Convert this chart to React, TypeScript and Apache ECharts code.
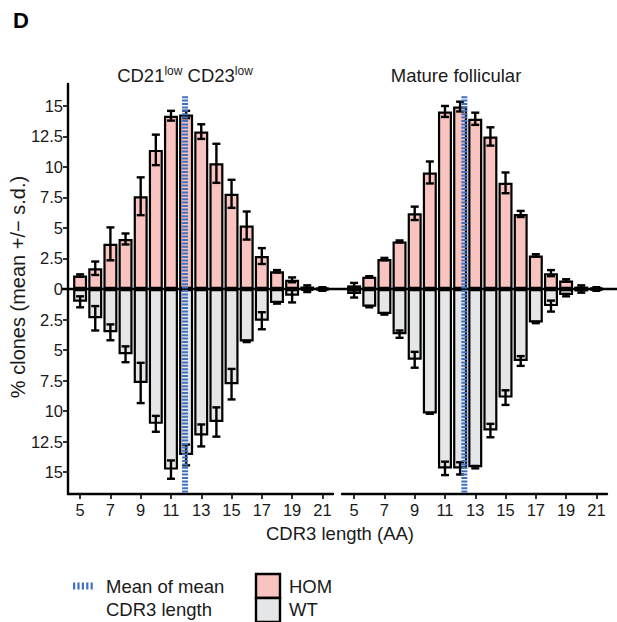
import React, { useEffect, useRef } from "react";
import * as echarts from "echarts";

// ---- data ----
const lengths = [5, 6, 7, 8, 9, 10, 11, 12, 13, 14, 15, 16, 17, 18, 19, 20, 21];
const xTickValues = [5, 7, 9, 11, 13, 15, 17, 19, 21];
const yTickValues = [-15, -12.5, -10, -7.5, -5, -2.5, 0, 2.5, 5, 7.5, 10, 12.5, 15];

const panelNames = ["CD21low CD23low", "Mature follicular"];

const leftHomMean = [1.1, 1.7, 3.7, 4.1, 7.6, 11.4, 14.2, 14.3, 12.9, 10.3, 7.8, 5.2, 2.7, 1.45, 0.75, 0.2, 0.1];
const leftHomSd = [0.1, 0.55, 1.35, 0.45, 1.55, 1.25, 0.4, 0.3, 0.6, 1.6, 1.15, 1.15, 0.65, 0.1, 0.2, 0.1, 0.05];
const leftWtMean = [1.05, 2.4, 3.55, 5.35, 7.7, 11.05, 14.8, 13.6, 12.0, 10.9, 7.8, 4.3, 2.6, 1.15, 0.55, 0.15, 0.1];
const leftWtSd = [0.45, 1.0, 0.65, 0.65, 1.65, 0.65, 0.75, 0.85, 0.9, 1.2, 1.25, 0.05, 0.7, 0.05, 0.55, 0.1, 0.05];

const rightHomMean = [0.3, 1.0, 2.45, 3.9, 6.2, 9.55, 14.55, 14.95, 13.95, 12.5, 8.7, 6.15, 2.75, 1.3, 0.7, 0.2, 0.1];
const rightHomSd = [0.2, 0.05, 0.1, 0.08, 0.55, 0.9, 0.45, 0.4, 0.5, 0.75, 0.85, 0.25, 0.1, 0.25, 0.1, 0.1, 0.05];
const rightWtMean = [0.4, 1.45, 2.05, 3.7, 5.8, 10.2, 14.7, 14.7, 14.6, 11.6, 8.9, 5.9, 2.75, 1.4, 0.5, 0.2, 0.1];
const rightWtSd = [0.3, 0.05, 0.05, 0.3, 0.65, 0.02, 0.55, 0.5, 0.1, 0.55, 0.6, 0.4, 0.05, 0.45, 0.1, 0.1, 0.05];

const meanCdr3 = [11.93, 12.28];

// ---- styling / layout ----
const FONT = "Liberation Sans, Arial, Helvetica, sans-serif";
const HOM_COLOR = "#F9C3BF";
const WT_COLOR = "#E5E6E8";
const MEAN_COLOR = "#4070C0";
const TEXT = "#1a1a1a";
const X_MIN = 4.2;
const X_MAX = 21.7;
const Y_MAX = 16.8;
const GRID_TOP = 84;
const GRID_H = 410;
const GRID_W = 265;
const GRID_LEFTS = [68, 342];
const ZERO_Y = GRID_TOP + GRID_H / 2;

function errorBarRender(params: any, api: any) {
  const x = api.value(0);
  const lo = api.value(1);
  const hi = api.value(2);
  const pLo = api.coord([x, lo]);
  const pHi = api.coord([x, hi]);
  const hw = 4;
  const style = { stroke: "#000", lineWidth: 2.4 };
  return {
    type: "group",
    children: [
      { type: "line", shape: { x1: pLo[0], y1: pLo[1], x2: pHi[0], y2: pHi[1] }, style },
      { type: "line", shape: { x1: pLo[0] - hw, y1: pLo[1], x2: pLo[0] + hw, y2: pLo[1] }, style },
      { type: "line", shape: { x1: pHi[0] - hw, y1: pHi[1], x2: pHi[0] + hw, y2: pHi[1] }, style },
    ],
  };
}

function meanLineRender(params: any, api: any) {
  const x = api.value(0);
  const p1 = api.coord([x, api.value(1)]);
  const p2 = api.coord([x, api.value(2)]);
  return {
    type: "line",
    shape: { x1: p1[0], y1: p1[1], x2: p2[0], y2: p2[1] },
    style: { stroke: MEAN_COLOR, lineWidth: 6, lineDash: [2, 1.4] },
  };
}

function panelSeries(idx: number, homM: number[], homS: number[], wtM: number[], wtS: number[]) {
  return [
    {
      type: "bar",
      name: "HOM",
      xAxisIndex: idx,
      yAxisIndex: idx,
      stack: "p" + idx,
      barWidth: 14,
      data: lengths.map((l, i) => [l, homM[i]]),
      itemStyle: { color: HOM_COLOR, borderColor: "#000", borderWidth: 2.2 },
      z: 2,
    },
    {
      type: "bar",
      name: "WT",
      xAxisIndex: idx,
      yAxisIndex: idx,
      stack: "p" + idx,
      barWidth: 14,
      data: lengths.map((l, i) => [l, -wtM[i]]),
      itemStyle: { color: WT_COLOR, borderColor: "#000", borderWidth: 2.2 },
      z: 2,
    },
    {
      type: "custom",
      xAxisIndex: idx,
      yAxisIndex: idx,
      renderItem: errorBarRender,
      data: lengths.map((l, i) => [l, homM[i] - homS[i], homM[i] + homS[i]]),
      z: 5,
    },
    {
      type: "custom",
      xAxisIndex: idx,
      yAxisIndex: idx,
      renderItem: errorBarRender,
      data: lengths.map((l, i) => [l, -(wtM[i] + wtS[i]), -(wtM[i] - wtS[i])]),
      z: 5,
    },
    {
      type: "custom",
      xAxisIndex: idx,
      yAxisIndex: idx,
      renderItem: meanLineRender,
      data: [[meanCdr3[idx], 15.8, -Y_MAX]],
      z: 10,
    },
  ];
}

export default function App() {
  const ref = useRef<HTMLDivElement>(null);
  useEffect(() => {
    const chart = echarts.init(ref.current!, null, { renderer: "svg" });
    const xAxisBase = (gridIndex: number) => ({
      type: "value",
      gridIndex,
      min: X_MIN,
      max: X_MAX,
      axisLine: { show: true, onZero: false, lineStyle: { color: "#000", width: 2.4 } },
      axisTick: { show: true, customValues: xTickValues, length: 5, lineStyle: { color: "#000", width: 1.6 } },
      axisLabel: { customValues: xTickValues, fontSize: 16.5, color: TEXT, fontFamily: FONT, margin: 7 },
      splitLine: { show: false },
    });
    const option: any = {
      animation: false,
      backgroundColor: "#fff",
      textStyle: { fontFamily: FONT },
      grid: GRID_LEFTS.map((left) => ({ left, top: GRID_TOP, width: GRID_W, height: GRID_H })),
      xAxis: [xAxisBase(0), xAxisBase(1)],
      yAxis: [
        {
          type: "value",
          gridIndex: 0,
          min: -Y_MAX,
          max: Y_MAX,
          axisLine: { show: true, onZero: false, lineStyle: { color: "#000", width: 2.4 } },
          axisTick: { show: true, customValues: yTickValues, length: 5, lineStyle: { color: "#000", width: 1.6 } },
          axisLabel: {
            customValues: yTickValues,
            fontSize: 16.5,
            color: TEXT,
            fontFamily: FONT,
            margin: 5,
            formatter: (v: number) => String(Math.abs(v)),
          },
          splitLine: { show: false },
        },
        {
          type: "value",
          gridIndex: 1,
          min: -Y_MAX,
          max: Y_MAX,
          show: false,
          splitLine: { show: false },
        },
      ],
      series: [
        ...panelSeries(0, leftHomMean, leftHomSd, leftWtMean, leftWtSd),
        ...panelSeries(1, rightHomMean, rightHomSd, rightWtMean, rightWtSd),
      ],
      graphic: [
        // zero reference line across both panels
        {
          type: "line",
          z: 4,
          shape: { x1: 62, y1: ZERO_Y, x2: 620, y2: ZERO_Y },
          style: { stroke: "#000", lineWidth: 2.6 },
        },
        { type: "text", left: 13, top: 9, style: { text: "D", fontSize: 22, fontWeight: "bold", fill: "#000", fontFamily: FONT } },
        {
          type: "text",
          x: 185,
          y: 75,
          style: {
            text: "CD21{sup|low} CD23{sup|low}",
            align: "center",
            verticalAlign: "middle",
            fontSize: 18.5,
            fill: TEXT,
            fontFamily: FONT,
            rich: {
              sup: { fontSize: 12, verticalAlign: "top", padding: [0, 0, 9, 0], fill: TEXT, fontFamily: FONT },
            },
          },
        },
        {
          type: "text",
          x: 456,
          y: 75,
          style: { text: panelNames[1], align: "center", verticalAlign: "middle", fontSize: 18.5, fill: TEXT, fontFamily: FONT },
        },
        {
          type: "text",
          x: 340,
          y: 533,
          style: { text: "CDR3 length (AA)", align: "center", verticalAlign: "middle", fontSize: 18.5, fill: TEXT, fontFamily: FONT },
        },
        {
          type: "text",
          x: 18,
          y: 287,
          rotation: Math.PI / 2,
          style: { text: "% clones (mean +/\u2212 s.d.)", align: "center", verticalAlign: "middle", fontSize: 20, fill: TEXT, fontFamily: FONT },
        },
        // legend
        {
          type: "line",
          shape: { x1: 73, y1: 586, x2: 95, y2: 586 },
          style: { stroke: MEAN_COLOR, lineWidth: 7, lineDash: [2.2, 2.2] },
        },
        { type: "text", x: 106, y: 586, style: { text: "Mean of mean", verticalAlign: "middle", fontSize: 18.5, fill: TEXT, fontFamily: FONT } },
        { type: "text", x: 106, y: 609, style: { text: "CDR3 length", verticalAlign: "middle", fontSize: 18.5, fill: TEXT, fontFamily: FONT } },
        { type: "rect", shape: { x: 256, y: 574, width: 24, height: 24 }, style: { fill: HOM_COLOR, stroke: "#000", lineWidth: 2.4 } },
        { type: "rect", shape: { x: 256, y: 598, width: 24, height: 24 }, style: { fill: WT_COLOR, stroke: "#000", lineWidth: 2.4 } },
        { type: "text", x: 289, y: 586, style: { text: "HOM", verticalAlign: "middle", fontSize: 18.5, fill: TEXT, fontFamily: FONT } },
        { type: "text", x: 289, y: 609, style: { text: "WT", verticalAlign: "middle", fontSize: 18.5, fill: TEXT, fontFamily: FONT } },
      ],
    };
    chart.setOption(option);
    return () => chart.dispose();
  }, []);
  return <div ref={ref} style={{ position: "fixed", left: 0, top: 0, width: 617, height: 622 }} />;
}
